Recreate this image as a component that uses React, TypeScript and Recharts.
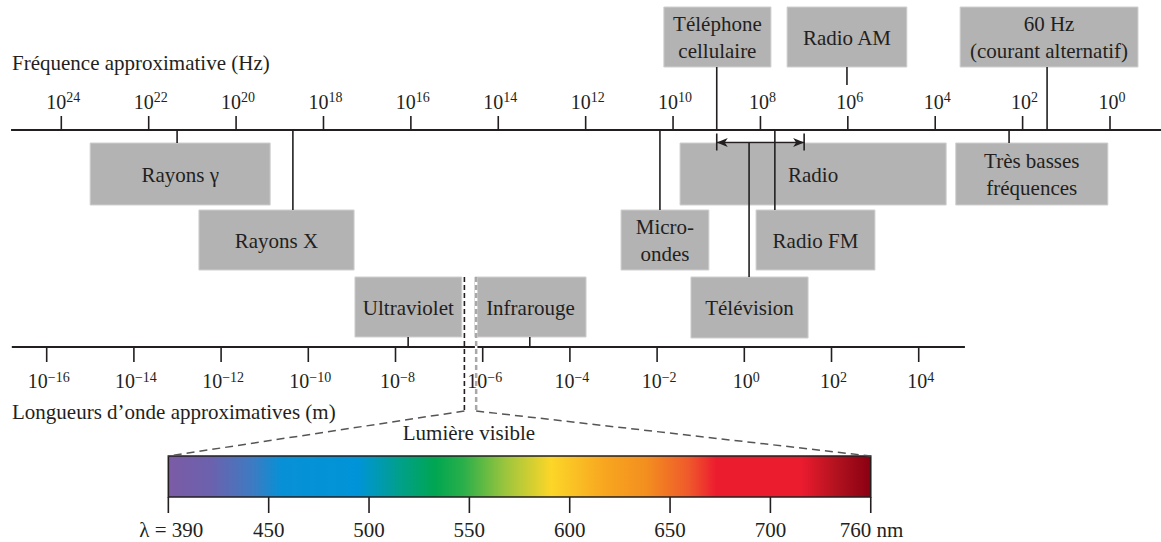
import React from 'react';
import { ComposedChart, XAxis, YAxis, ReferenceArea, ReferenceLine, ReferenceDot } from 'recharts';

// ---------- data ----------
// tick exponents
const freqTicks = [24, 22, 20, 18, 16, 14, 12, 10, 8, 6, 4, 2, 0]; // log10(Hz)
const waveTicks = [-16, -14, -12, -10, -8, -6, -4, -2, 0, 2, 4]; // log10(m)
const visibleTicks = [390, 450, 500, 550, 600, 650, 700, 760]; // nm

// frequency bands (log10 Hz), row = layout row, link = where the connector meets the axis
const freqBands = [
  { id: 'cell', lines: ['Téléphone', 'cellulaire'], from: 10.21, to: 7.76, row: 0, link: 9.0 },
  { id: 'am', lines: ['Radio AM'], from: 7.39, to: 4.65, row: 0, link: 6.02 },
  { id: 'ac', lines: ['60 Hz', '(courant alternatif)'], from: 3.43, to: -0.64, row: 0, link: 1.44 },
  { id: 'gamma', lines: ['Rayons γ'], from: 23.34, to: 19.22, row: 1, link: 21.35 },
  { id: 'radio', lines: ['Radio'], from: 9.84, to: 3.75, row: 1, link: null as number | null },
  { id: 'vlf', lines: ['Très basses', 'fréquences'], from: 3.53, to: 0.05, row: 1, link: 2.31 },
  { id: 'x', lines: ['Rayons X'], from: 20.85, to: 17.3, row: 2, link: 18.7 },
  { id: 'micro', lines: ['Micro-', 'ondes'], from: 11.19, to: 9.18, row: 2, link: 10.3 },
  { id: 'fm', lines: ['Radio FM'], from: 8.1, to: 5.38, row: 2, link: 7.67 },
  { id: 'tv', lines: ['Télévision'], from: 9.59, to: 6.91, row: 3, link: 8.26 },
];

// television range arrow (log10 Hz)
const tvRange = [9.0, 7.0];

// wavelength bands (log10 m)
const waveBands = [
  { id: 'uv', lines: ['Ultraviolet'], from: -8.93, to: -6.48, link: -7.71 },
  { id: 'ir', lines: ['Infrarouge'], from: -6.18, to: -3.63, link: -4.92 },
];

// visible light limits (log10 m)
const visibleLimits = [-6.42, -6.15];
// visible bar placement along the wavelength axis
const visibleBar = [-13.21, 2.9];

// spectrum colours (fraction along bar)
const spectrumStops = [
  { o: 0.0, c: '#7b5ba6' },
  { o: 0.06, c: '#6c61ad' },
  { o: 0.12, c: '#3d7bc2' },
  { o: 0.16, c: '#0890d6' },
  { o: 0.27, c: '#0094d7' },
  { o: 0.33, c: '#00a08a' },
  { o: 0.38, c: '#00a651' },
  { o: 0.42, c: '#2aaf4a' },
  { o: 0.48, c: '#9cc53d' },
  { o: 0.545, c: '#fcd628' },
  { o: 0.62, c: '#f8a620' },
  { o: 0.68, c: '#f38f1f' },
  { o: 0.74, c: '#ef5a2b' },
  { o: 0.78, c: '#ec1c2f' },
  { o: 0.9, c: '#ec1c2f' },
  { o: 0.95, c: '#b3121f' },
  { o: 1.0, c: '#8a0012' },
];

// ---------- layout ----------
const W = 1161;
const H = 542;
const FONT = '"Liberation Serif", "Times New Roman", "DejaVu Serif", serif';
const INK = '#231f20';
const BOX = '#b3b3b3';
const F_DOMAIN: [number, number] = [-1.167, 25.403];
const W_DOMAIN: [number, number] = [-17.071, 9.557];
const FREQ_Y = 130;
const WAVE_Y = 347;
const rowY = [
  [7, 67],
  [143, 205],
  [210, 270],
  [277, 338],
];
const ARROW_Y = 142.5;
const AM_STOP = 85;
const VIS_TOP = 277;
const VIS_BOTTOM = 411;
const BAR_Y = [456, 497];

const chartData = freqTicks.map((e) => ({ f: e }));

const boxLabel = (lines: string[]) => (props: any) => {
  const vb = props.viewBox || {};
  const cx = vb.x + vb.width / 2;
  const cy = vb.y + vb.height / 2;
  const first = lines.length === 1 ? cy + 7.5 : cy - 6.5;
  return (
    <text x={cx} y={first} textAnchor="middle" fontFamily={FONT} fontSize={21} fill={INK}>
      {lines.map((l, i) => (
        <tspan key={i} x={cx} dy={i === 0 ? 0 : 27}>
          {l}
        </tspan>
      ))}
    </text>
  );
};

const freqTickShape = (e: number) => (p: any) => (
  <g>
    <line x1={p.cx} y1={p.cy - 14} x2={p.cx} y2={p.cy} stroke={INK} strokeWidth={1.6} />
    <text x={p.cx + 2} y={p.cy - 21} textAnchor="middle" fontFamily={FONT} fill={INK}>
      <tspan fontSize={20}>10</tspan>
      <tspan fontSize={14} dy={-7}>
        {String(e)}
      </tspan>
    </text>
  </g>
);

const waveTickShape = (e: number) => (p: any) => (
  <g>
    <line x1={p.cx} y1={p.cy} x2={p.cx} y2={p.cy + 15} stroke={INK} strokeWidth={1.6} />
    <text x={p.cx + 2} y={p.cy + 41} textAnchor="middle" fontFamily={FONT} fill={INK}>
      <tspan fontSize={20}>10</tspan>
      <tspan fontSize={14} dy={-6}>
        {e < 0 ? '\u2212' + String(-e) : String(e)}
      </tspan>
    </text>
  </g>
);

const nmTickShape = (nm: number, i: number, n: number) => (p: any) => {
  let label = String(nm);
  let anchor: 'middle' | 'start' | 'end' = 'middle';
  let x = p.cx;
  if (i === 0) {
    label = 'λ = ' + nm;
    anchor = 'end';
    x = p.cx + 35;
  } else if (i === n - 1) {
    label = nm + ' nm';
    anchor = 'start';
    x = p.cx - 31;
  }
  return (
    <g>
      <line x1={p.cx} y1={p.cy} x2={p.cx} y2={p.cy + 16} stroke={INK} strokeWidth={1.6} />
      <text x={x} y={p.cy + 40} textAnchor={anchor} fontFamily={FONT} fontSize={21} fill={INK}>
        {label}
      </text>
    </g>
  );
};

const arrowHead = (dir: number) => (p: any) => (
  <polygon
    points={`${p.cx},${p.cy} ${p.cx + dir * 11},${p.cy - 4.5} ${p.cx + dir * 8},${p.cy} ${p.cx + dir * 11},${p.cy + 4.5}`}
    fill={INK}
  />
);

export default function App() {
  const nmPos = visibleTicks.map(
    (_, i) => visibleBar[0] + (i * (visibleBar[1] - visibleBar[0])) / (visibleTicks.length - 1)
  );
  return (
    <div style={{ position: 'absolute', left: 0, top: 0, background: '#fff' }}>
      <ComposedChart width={W} height={H} data={chartData} margin={{ top: 0, right: 0, bottom: 0, left: 0 }}>
        <defs>
          <linearGradient id="spectrum" x1="0" y1="0" x2="1" y2="0">
            {spectrumStops.map((s, i) => (
              <stop key={i} offset={s.o} stopColor={s.c} />
            ))}
          </linearGradient>
        </defs>
        <XAxis xAxisId="f" dataKey="f" type="number" domain={F_DOMAIN} reversed hide allowDataOverflow />
        <XAxis xAxisId="w" dataKey="f" type="number" domain={W_DOMAIN} hide allowDataOverflow />
        <YAxis yAxisId="y" dataKey="f" type="number" domain={[0, H]} reversed hide allowDataOverflow />

        {/* boxes on frequency axis */}
        {freqBands.map((b) => (
          <ReferenceArea
            key={b.id}
            xAxisId="f"
            yAxisId="y"
            x1={b.from}
            x2={b.to}
            y1={rowY[b.row][0]}
            y2={rowY[b.row][1]}
            fill={BOX}
            fillOpacity={1}
            stroke="#cfcfcf"
            strokeWidth={1}
            label={boxLabel(b.lines)}
          />
        ))}
        {waveBands.map((b) => (
          <ReferenceArea
            key={b.id}
            xAxisId="w"
            yAxisId="y"
            x1={b.from}
            x2={b.to}
            y1={rowY[3][0]}
            y2={rowY[3][1] - 1}
            fill={BOX}
            fillOpacity={1}
            stroke="#cfcfcf"
            strokeWidth={1}
            label={boxLabel(b.lines)}
          />
        ))}

        {/* visible spectrum bar */}
        <ReferenceArea
          xAxisId="w"
          yAxisId="y"
          x1={visibleBar[0]}
          x2={visibleBar[1]}
          y1={BAR_Y[0]}
          y2={BAR_Y[1]}
          fill="url(#spectrum)"
          fillOpacity={1}
          stroke={INK}
          strokeWidth={1.6}
        />

        {/* axis lines */}
        <ReferenceLine
          xAxisId="f"
          yAxisId="y"
          segment={[
            { x: 25.15, y: FREQ_Y },
            { x: F_DOMAIN[0], y: FREQ_Y },
          ]}
          stroke={INK}
          strokeWidth={2}
        />
        <ReferenceLine
          xAxisId="w"
          yAxisId="y"
          segment={[
            { x: -16.8, y: WAVE_Y },
            { x: 5.06, y: WAVE_Y },
          ]}
          stroke={INK}
          strokeWidth={2}
        />

        {/* connectors for frequency bands */}
        {freqBands
          .filter((b) => b.link !== null && b.id !== 'tv')
          .map((b) => {
            let yA: number;
            let yB: number;
            if (b.row === 0) {
              yA = rowY[0][1];
              yB = b.id === 'am' ? AM_STOP : FREQ_Y;
            } else {
              yA = FREQ_Y;
              yB = rowY[b.row][0];
            }
            return (
              <ReferenceLine
                key={'c' + b.id}
                xAxisId="f"
                yAxisId="y"
                segment={[
                  { x: b.link as number, y: yA },
                  { x: b.link as number, y: yB },
                ]}
                stroke={INK}
                strokeWidth={1.6}
              />
            );
          })}

        {/* television range */}
        {tvRange.map((v, i) => (
          <ReferenceLine
            key={'tvb' + i}
            xAxisId="f"
            yAxisId="y"
            segment={[
              { x: v, y: ARROW_Y - 9 },
              { x: v, y: ARROW_Y + 8 },
            ]}
            stroke={INK}
            strokeWidth={1.6}
          />
        ))}
        <ReferenceLine
          xAxisId="f"
          yAxisId="y"
          segment={[
            { x: tvRange[0], y: ARROW_Y },
            { x: tvRange[1], y: ARROW_Y },
          ]}
          stroke={INK}
          strokeWidth={1.6}
        />
        <ReferenceDot xAxisId="f" yAxisId="y" x={tvRange[0]} y={ARROW_Y} r={1} shape={arrowHead(1)} />
        <ReferenceDot xAxisId="f" yAxisId="y" x={tvRange[1]} y={ARROW_Y} r={1} shape={arrowHead(-1)} />
        <ReferenceLine
          xAxisId="f"
          yAxisId="y"
          segment={[
            { x: 8.26, y: ARROW_Y },
            { x: 8.26, y: rowY[3][0] },
          ]}
          stroke={INK}
          strokeWidth={1.6}
        />

        {/* connectors for wavelength bands */}
        {waveBands.map((b) => (
          <ReferenceLine
            key={'cw' + b.id}
            xAxisId="w"
            yAxisId="y"
            segment={[
              { x: b.link, y: rowY[3][1] - 1 },
              { x: b.link, y: WAVE_Y },
            ]}
            stroke={INK}
            strokeWidth={1.6}
          />
        ))}

        {/* visible light limits */}
        <ReferenceLine
          xAxisId="w"
          yAxisId="y"
          segment={[
            { x: visibleLimits[0], y: VIS_TOP },
            { x: visibleLimits[0], y: VIS_BOTTOM },
          ]}
          stroke={INK}
          strokeWidth={1.6}
          strokeDasharray="5 3"
        />
        <ReferenceLine
          xAxisId="w"
          yAxisId="y"
          segment={[
            { x: visibleLimits[1], y: VIS_TOP },
            { x: visibleLimits[1], y: VIS_BOTTOM },
          ]}
          stroke="#ffffff"
          strokeWidth={2.5}
        />
        <ReferenceLine
          xAxisId="w"
          yAxisId="y"
          segment={[
            { x: visibleLimits[1], y: VIS_TOP },
            { x: visibleLimits[1], y: VIS_BOTTOM },
          ]}
          stroke="#a8a8a8"
          strokeWidth={2.5}
          strokeDasharray="5 3"
        />
        <ReferenceLine
          xAxisId="w"
          yAxisId="y"
          segment={[
            { x: visibleLimits[0], y: VIS_BOTTOM },
            { x: visibleBar[0], y: BAR_Y[0] },
          ]}
          stroke="#555"
          strokeWidth={1.5}
          strokeDasharray="8 5"
        />
        <ReferenceLine
          xAxisId="w"
          yAxisId="y"
          segment={[
            { x: visibleLimits[1], y: VIS_BOTTOM },
            { x: visibleBar[1], y: BAR_Y[0] },
          ]}
          stroke="#555"
          strokeWidth={1.5}
          strokeDasharray="8 5"
        />

        {/* ticks */}
        {freqTicks.map((e) => (
          <ReferenceDot key={'ft' + e} xAxisId="f" yAxisId="y" x={e} y={FREQ_Y} r={1} shape={freqTickShape(e)} />
        ))}
        {waveTicks.map((e) => (
          <ReferenceDot key={'wt' + e} xAxisId="w" yAxisId="y" x={e} y={WAVE_Y} r={1} shape={waveTickShape(e)} />
        ))}
        {visibleTicks.map((nm, i) => (
          <ReferenceDot
            key={'nm' + nm}
            xAxisId="w"
            yAxisId="y"
            x={nmPos[i]}
            y={BAR_Y[1]}
            r={1}
            shape={nmTickShape(nm, i, visibleTicks.length)}
          />
        ))}

        {/* titles */}
        <text x={12} y={70} fontFamily={FONT} fontSize={21} fill={INK}>
          Fréquence approximative (Hz)
        </text>
        <text x={12} y={419} fontFamily={FONT} fontSize={21} fill={INK}>
          Longueurs d’onde approximatives (m)
        </text>
        <text x={469} y={440} textAnchor="middle" fontFamily={FONT} fontSize={21} fill={INK}>
          Lumière visible
        </text>
      </ComposedChart>
    </div>
  );
}
